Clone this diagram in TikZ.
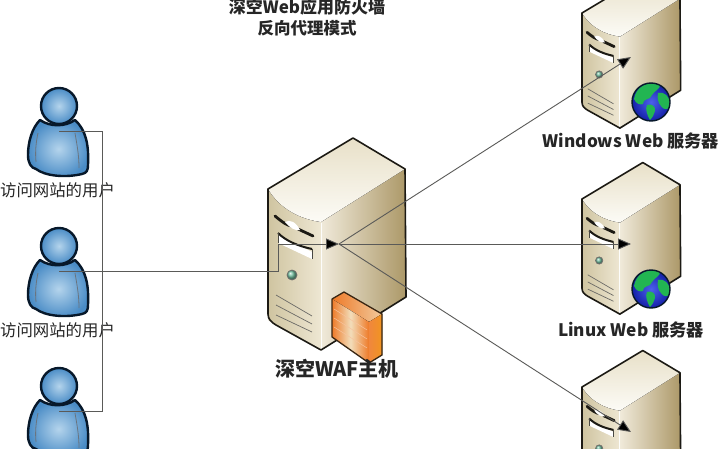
\documentclass[tikz,border=0pt]{standalone}
\usepackage{fontspec}
\setmainfont{Noto Sans CJK SC}
\usetikzlibrary{arrows.meta}
\definecolor{edgeblk}{HTML}{1C1A14}
\definecolor{wire}{HTML}{5A5A58}
\definecolor{D}{HTML}{E0D8C0}
\definecolor{frontA}{HTML}{CFC4A0}
\definecolor{frontB}{HTML}{EEE7D3}
\definecolor{sideA}{HTML}{F0EADA}
\definecolor{sideB}{HTML}{AC9868}
\definecolor{topA}{HTML}{E8E0C8}
\definecolor{topB}{HTML}{FCFBF6}
\definecolor{ledgreen}{HTML}{6DBB9C}
\definecolor{bodyblue}{HTML}{4A8CC6}
\definecolor{bodylight}{HTML}{B4D4EC}
\definecolor{bodydark}{HTML}{07182A}
\definecolor{globegreen}{HTML}{22B552}
\definecolor{globeblue}{HTML}{2C44E8}
\definecolor{globedeep}{HTML}{1420A8}
\definecolor{brickA}{HTML}{EE7A28}
\definecolor{brickB}{HTML}{F2DDBA}
\tikzset{
  outline/.style={draw=edgeblk,line width=1.6pt,line join=round},
  wireline/.style={draw=wire,line width=0.9pt},
  arrowline/.style={draw=wire,line width=0.9pt,-{Triangle[length=13pt,width=11pt,fill=black]}},
  busline/.style={draw=wire,line width=0.9pt},
  userlabel/.style={font=\fontsize{16.4}{18}\selectfont,text=black!85,inner sep=0pt},
  boldlabel/.style={font=\bfseries\fontsize{#1}{#1}\selectfont,text=black!85,inner sep=0pt},
}
\newcommand{\serverbox}[3]{%
  \begin{scope}[shift={(#1,#2)},scale=#3]
    \fill[D] (0,0) -- (85,-51) -- (137,-20) -- (138,108) -- (53,161) -- (0,131) -- cycle;
    \fill[left color=frontA,right color=frontB] (0,0) .. controls (12,20) and (32,30) .. (53,33) -- (53,161) -- (8,136) .. controls (3,133) and (0,130) .. (0,125) -- cycle;
    \fill[left color=sideA,right color=sideB] (53,33) -- (137,-20) -- (138,108) -- (53,161) -- cycle;
    \fill[top color=topA,bottom color=topB] (0,0) -- (85,-51) -- (137,-20) -- (53,33) .. controls (32,30) and (12,20) .. (0,0) -- cycle;
    \draw[white!90!frontB,line width=1pt] (53,34) -- (53,160);
    \draw[outline] (0,0) -- (85,-51) -- (137,-20) -- (138,108) -- (53,161) -- (8,136) .. controls (3,133) and (0,130) .. (0,125) -- cycle;
    % drive slots
    \draw[edgeblk,line width=2.8pt,line cap=round] (7,27) .. controls (14,33) and (20,37) .. (24,37);
    \draw[edgeblk,line width=2.8pt,line cap=round] (30,40) -- (45,47);
    \fill[white] (17,33) .. controls (22,30) and (28,33) .. (32,41) .. controls (27,42) and (22,39) .. (17,33) -- cycle;
    \fill[white] (10,46) -- (44,63) -- (44,70) -- (10,54) -- cycle;
    \draw[edgeblk,line width=2pt] (10,44) .. controls (18,52) and (30,57) .. (44,60);
    \draw[edgeblk!80,line width=0.7pt] (10,44) -- (10,54);
    \draw[edgeblk!80,line width=0.7pt] (44,60) -- (44,70);
    % lamp
    \fill[ball color=ledgreen,draw=edgeblk!60,line width=.8pt] (24,86) circle (5);
    % vents
    \draw[edgeblk!65,line width=.7pt] (8,106) -- (44,127) (8,116) -- (44,135) (8,126) -- (44,143);
  \end{scope}}
\newcommand{\globe}[2]{%
  \begin{scope}[shift={(#1,#2)}]
    \shade[inner color=globeblue!85!white,outer color=globedeep] (0,0) circle (19);
    \begin{scope}
      \clip (0,0) circle (19);
      \fill[globegreen] (-17,-3) .. controls (-15,-15) and (-5,-21) .. (9,-18) .. controls (10,-13) and (3,-11) .. (1,-7) .. controls (-1,-1) and (-7,-5) .. (-8,2) .. controls (-11,3) and (-15,2) .. (-17,-3) -- cycle;
      \fill[globegreen] (7,-9) .. controls (13,-11) and (18,-6) .. (20,3) .. controls (18,9) and (12,8) .. (10,4) .. controls (7,1) and (6,-4) .. (7,-9) -- cycle;
      \fill[globegreen] (-4,3) .. controls (1,1) and (5,5) .. (4,9) .. controls (3,12) and (2,15) .. (-1,18) .. controls (-4,13) and (-6,7) .. (-4,3) -- cycle;
    \end{scope}
    \draw[bodydark,line width=1.4pt] (0,0) circle (19);
  \end{scope}}
\newcommand{\person}[1]{%
  \begin{scope}[shift={(0,#1)}]
    \shade[inner color=bodylight,outer color=bodyblue,line width=2.4pt,draw=bodydark,line join=round]
      (40,120) .. controls (32,128) and (28,142) .. (28,155) .. controls (28,163) and (31,168) .. (36,169)
      .. controls (45,176) and (65,178) .. (82,174) .. controls (87,173) and (88,170) .. (88,165)
      .. controls (89,145) and (86,130) .. (75,120) .. controls (65,127) and (50,127) .. (40,120) -- cycle;
    \draw[bodydark!60,line width=.8pt] (38,133) .. controls (36,142) and (35,152) .. (36,162);
    \draw[bodydark!60,line width=.8pt] (75,133) .. controls (77,145) and (79,155) .. (79,168);
    \shade[inner color=bodylight,outer color=bodyblue,draw=bodydark,line width=2.4pt] (59,106) circle (18);
  \end{scope}}
\begin{document}
\begin{tikzpicture}[x=1pt,y=-1pt]
  \useasboundingbox (0,0) rectangle (719,449);
  \fill[white] (0,0) rectangle (719,449);
  \clip (0,0) rectangle (719,449);

  \node[boldlabel=17] (titleA) at (307,7) {深空Web应用防火墙};
  \node[boldlabel=16.5] (titleB) at (307,28) {反向代理模式};

  \person{0}\person{140}\person{280}
  \node[userlabel] (labelA) at (57.5,190) {访问网站的用户};
  \node[userlabel] (labelB) at (57.5,330) {访问网站的用户};

  \serverbox{268}{189}{1}
  % firewall
  \fill[left color=brickA,right color=brickB!80!brickA] (332,299) -- (344,292) -- (382,314) -- (369,322) -- cycle;
  \fill[left color=brickA,right color=brickA,middle color=brickB] (332,299) -- (369,322) -- (369,363) -- (332,337) -- cycle;
  \fill[left color=brickA!90,right color=brickA!80!yellow] (369,322) -- (382,314) -- (382,355) -- (369,363) -- cycle;
  \begin{scope}[brickA!45!white,line width=.5pt]
    \draw (334,309) -- (367,330) (334,318) -- (367,339) (334,327) -- (367,348);
  \end{scope}
  \draw[draw=black!70!brown,line width=1.3pt,line join=round] (332,337) -- (332,299) -- (344,292) -- (382,314) -- (382,355) -- (369,363) -- (332,337);

  \serverbox{582}{13}{0.715}
  \serverbox{582}{199}{0.715}
  \serverbox{582}{387}{0.715}
  \globe{651}{102}
  \globe{651}{289}

  \node[boldlabel=20] (wafLabel) at (337,369) {深空WAF主机};
  \node[boldlabel=17.2] (winLabel) at (631,141) {Windows Web 服务器};
  \node[boldlabel=17.2] (linuxLabel) at (631,330) {Linux Web 服务器};

  % connector end points
  \coordinate (userA) at (59,131);
  \coordinate (userB) at (59,271);
  \coordinate (userC) at (59,411);
  \coordinate (busA) at (102,131);
  \coordinate (busC) at (102,411);
  \coordinate (wafLow) at (278,271);
  \coordinate (wafHigh) at (278,244);
  \coordinate (wafCore) at (339,244);
  \coordinate (winCore) at (631,57);
  \coordinate (linuxCore) at (631,244);
  \coordinate (thirdCore) at (631,432);

  \draw[busline] (userA) -- (busA) -- (busC) -- (userC);
  \draw[wireline] (userB) -- (wafLow) -- (wafHigh);
  \draw[arrowline] (wafHigh) -- (wafCore);
  \draw[arrowline] (wafCore) -- (winCore);
  \draw[arrowline] (wafCore) -- (linuxCore);
  \draw[arrowline] (wafCore) -- (thirdCore);
\end{tikzpicture}
\end{document}
